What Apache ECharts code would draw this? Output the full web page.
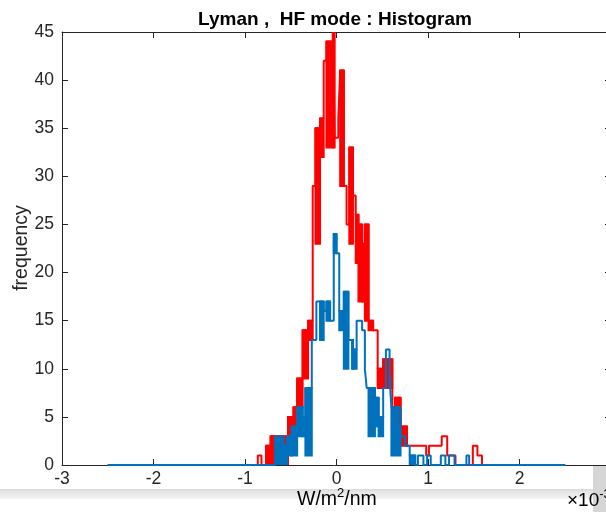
<!DOCTYPE html>
<html>
<head>
<meta charset="utf-8">
<script src="https://cdn.jsdelivr.net/npm/echarts@6/dist/echarts.min.js"></script>
<style>
  html, body { margin: 0; padding: 0; background: #ffffff; }
  #chart { width: 606px; height: 512px; }
</style>
</head>
<body>
<div id="chart"></div>
<script>
// x in units of 1e-3 W/m^2/nm; each entry starts a step that holds until the next x.
// hi = top of the step, lo = bottom of the densely oscillating band inside that step.
const redX  = [-2.5, -0.86, -0.82, -0.77, -0.72, -0.53, -0.47, -0.43, -0.37, -0.31, -0.26, -0.23, -0.18, -0.14, -0.11, -0.04, -0.02, 0.02, 0.04, 0.08, 0.11, 0.14, 0.18, 0.21, 0.24, 0.28, 0.31, 0.35, 0.40, 0.45, 0.51, 0.61, 0.64, 0.70, 0.77, 0.98, 1.01, 1.15, 1.21, 1.30, 1.49, 1.54, 1.59, 2.5];
const redHi = [0, 1, 0, 2, 3, 5, 6, 9, 14, 15, 29, 35, 36, 42, 44, 45, 34, 36, 41, 29, 25, 33, 28, 26, 25, 23, 25, 15, 14, 10, 11, 6, 7, 4, 2, 1, 2, 3, 1, 0, 2, 1, 0, 0];
const redLo = [0, 1, 0, 0, 0, 3, 4, 6, 9, 13, 29, 23, 32, 42, 33, 33, 34, 36, 29, 29, 25, 23, 28, 21, 17, 17, 15, 14, 14, 8, 8, 4, 4, 2, 2, 1, 2, 3, 1, 0, 2, 1, 0, 0];

const blueX  = [-2.5, -0.67, -0.58, -0.54, -0.49, -0.43, -0.37, -0.34, -0.27, -0.22, -0.18, -0.14, -0.11, -0.07, -0.03, 0.00, 0.03, 0.08, 0.13, 0.17, 0.18, 0.22, 0.28, 0.31, 0.33, 0.35, 0.42, 0.46, 0.51, 0.54, 0.58, 0.60, 0.70, 0.75, 0.80, 0.86, 0.89, 0.95, 0.99, 1.03, 1.14, 1.19, 1.23, 1.29, 1.42, 1.45, 2.5];
const blueHi = [0, 3, 2, 3, 4, 6, 5, 8, 13, 17, 17, 16, 17, 15, 24, 22, 16, 18, 13, 13, 12, 15, 14, 10, 8, 8, 7, 5, 8, 12, 9, 6, 3, 2, 1, 0, 1, 0, 1, 0, 1, 0, 1, 0, 1, 0, 0];
const blueLo = [0, 0, 0, 1, 1, 3, 3, 1, 13, 17, 13, 16, 15, 15, 22, 22, 14, 10, 13, 10, 10, 15, 14, 10, 8, 3, 4, 3, 8, 12, 8, 1, 3, 2, 0, 0, 1, 0, 1, 0, 1, 0, 1, 0, 1, 0, 0];

const xTicks = [-3, -2, -1, 0, 1, 2, 3];
const yTicks = [0, 5, 10, 15, 20, 25, 30, 35, 40, 45];

const RED = '#ff0000';
const BLUE = '#0072bd';
const AX = '#262626';
const FONT = 'Liberation Sans, Arial, Helvetica, sans-serif';

function stepData(xs, hs) { return xs.map((x, i) => [x, hs[i]]); }
function bandData(xs, hs, ls) {
  const out = [];
  for (let i = 0; i < xs.length - 1; i++) {
    if (ls[i] < hs[i]) out.push([xs[i], xs[i + 1], ls[i], hs[i]]);
  }
  return out;
}
function bandRender(color) {
  return function (params, api) {
    const p0 = api.coord([api.value(0), api.value(3)]);
    const p1 = api.coord([api.value(1), api.value(2)]);
    return {
      type: 'rect',
      shape: { x: p0[0], y: p0[1], width: p1[0] - p0[0], height: p1[1] - p0[1] },
      style: { fill: color, stroke: color, lineWidth: 2 }
    };
  };
}

const chart = echarts.init(document.getElementById('chart'), null, { renderer: 'canvas' });

function axisCommon() {
  return {
    type: 'value',
    axisLine: { show: true, onZero: false, lineStyle: { color: AX, width: 1 } },
    axisTick: { show: true, inside: true, length: 6, lineStyle: { color: AX, width: 1 } },
    splitLine: { show: false }
  };
}

chart.setOption({
  animation: false,
  backgroundColor: '#ffffff',
  title: {
    text: 'Lyman ,  HF mode : Histogram',
    left: 330, top: 5, textAlign: 'center',
    textStyle: { fontFamily: FONT, fontSize: 19, fontWeight: 'bold', color: '#000' }
  },
  grid: { left: 62, top: 32, width: 549, height: 433, containLabel: false, outerBoundsMode: 'none' },
  xAxis: [
    Object.assign(axisCommon(), {
      position: 'bottom', min: -3, max: 3, interval: 1,
      axisLabel: { show: true, margin: 5, color: AX, fontFamily: FONT, fontSize: 17.5,
        formatter: v => xTicks.includes(v) ? String(v) : '' }
    }),
    Object.assign(axisCommon(), {
      position: 'top', min: -3, max: 3, interval: 1, axisLabel: { show: false }
    })
  ],
  yAxis: [
    Object.assign(axisCommon(), {
      position: 'left', min: 0, max: 45, interval: 5,
      axisLabel: { show: true, margin: 8, color: AX, fontFamily: FONT, fontSize: 17.5,
        formatter: v => yTicks.includes(v) ? String(v) : '' }
    }),
    Object.assign(axisCommon(), {
      position: 'right', min: 0, max: 45, interval: 5, axisLabel: { show: false }
    })
  ],
  series: [
    {
      type: 'line', name: 'red', data: stepData(redX, redHi), step: 'end',
      showSymbol: false, symbol: 'none', lineStyle: { color: RED, width: 2 }, itemStyle: { color: RED }
    },
    {
      type: 'custom', name: 'redBand', data: bandData(redX, redHi, redLo),
      encode: { x: [0, 1], y: [2, 3] }, renderItem: bandRender(RED), clip: true
    },
    {
      type: 'line', name: 'blue', data: stepData(blueX, blueHi), step: 'end',
      showSymbol: false, symbol: 'none', lineStyle: { color: BLUE, width: 2 }, itemStyle: { color: BLUE }
    },
    {
      type: 'custom', name: 'blueBand', data: bandData(blueX, blueHi, blueLo),
      encode: { x: [0, 1], y: [2, 3] }, renderItem: bandRender(BLUE), clip: true
    }
  ],
  graphic: [
    { type: 'text', x: 22, y: 248, rotation: Math.PI / 2, silent: true,
      style: { text: 'frequency', fontFamily: FONT, fontSize: 19.5, fill: AX,
        textAlign: 'center', textVerticalAlign: 'middle' } },
    { type: 'rect', left: 0, top: 489, shape: { width: 593, height: 10 }, silent: true,
      style: { fill: new echarts.graphic.LinearGradient(0, 0, 0, 1, [
        { offset: 0, color: '#d9d9d9' }, { offset: 0.3, color: '#e6e6e6' }, { offset: 1, color: '#f3f3f3' }]) } },
    { type: 'rect', left: 593, top: 466, shape: { width: 13, height: 46 }, silent: true,
      style: { fill: '#d6d6d6' } },
    { type: 'text', left: 297, top: 487, silent: true,
      style: { text: '{a|W/m}{s|2}{a|/nm}', rich: {
        a: { fontFamily: FONT, fontSize: 19.5, color: AX, verticalAlign: 'bottom', lineHeight: 23 },
        s: { fontFamily: FONT, fontSize: 13, color: AX, verticalAlign: 'top', lineHeight: 23, padding: [0, 0, 9, 0] } } } },
    { type: 'text', left: 567, top: 488, silent: true,
      style: { text: '{a|×10}{s|-3}', rich: {
        a: { fontFamily: FONT, fontSize: 19, color: '#444', lineHeight: 22, verticalAlign: 'bottom' },
        s: { fontFamily: FONT, fontSize: 13, color: '#444', lineHeight: 22, padding: [0, 0, 9, 0], verticalAlign: 'top' } } } }
  ]
});
</script>
</body>
</html>
